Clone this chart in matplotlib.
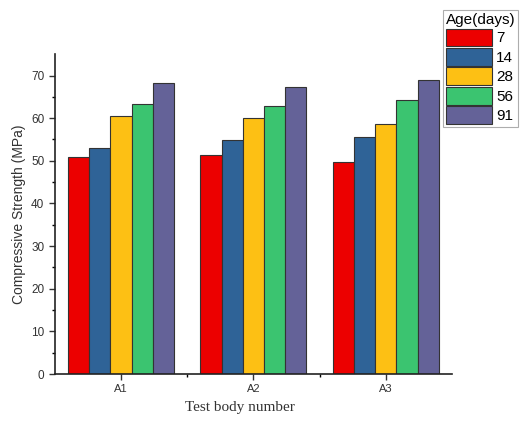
import numpy as np
import matplotlib.pyplot as plt

# 组别与龄期
groups = ['A1', 'A2', 'A3']
ages = ['7', '14', '28', '56', '91']
# 各龄期抗压强度 (MPa)，按组别排列
s7 = [51.0, 51.4, 49.7]
s14 = [53.0, 54.9, 55.5]
s28 = [60.4, 60.1, 58.7]
s56 = [63.3, 62.8, 64.2]
s91 = [68.2, 67.3, 69.0]
colors = ['#ec0000', '#2f6397', '#fdc014', '#3bc470', '#646298']

plt.rcParams['font.family'] = ['Liberation Sans', 'DejaVu Sans']
fig = plt.figure(figsize=(5.22, 4.37), dpi=100)
ax = fig.add_axes([0.105, 0.144, 0.761, 0.732])

x = np.arange(len(groups))
w = 0.16
for i, (vals, c, lab) in enumerate(zip([s7, s14, s28, s56, s91], colors, ages)):
    ax.bar(x + (i - 2) * w, vals, width=w, color=c, edgecolor='#333333',
           linewidth=0.8, label=lab)

ax.set_xlim(-0.5, 2.5)
ax.set_ylim(0, 75)
ax.set_xticks(x)
ax.set_xticklabels(groups, fontsize=8)
ax.set_xticks([0.5, 1.5], minor=True)
ax.set_yticks(np.arange(0, 71, 10))
ax.set_yticks(np.arange(5, 75, 10), minor=True)
ax.tick_params(axis='y', labelsize=8.5, colors='#333333')
ax.tick_params(axis='x', colors='#333333')
ax.tick_params(which='major', length=4, width=1)
ax.tick_params(which='minor', length=2.5, width=1)
for s in ['top', 'right']:
    ax.spines[s].set_visible(False)
for s in ['left', 'bottom']:
    ax.spines[s].set_linewidth(1.2)
    ax.spines[s].set_color('#222222')

ax.set_ylabel('Compressive Strength (MPa)', fontsize=10, color='#333333')
fig.text(0.46, 0.06, 'Test body number', family='Liberation Serif',
         fontsize=11, ha='center', color='#333333')

leg = fig.legend(loc='upper left', bbox_to_anchor=(0.848, 0.978),
                 title='Age(days)', fontsize=11, title_fontsize=11,
                 frameon=True, fancybox=False, handlelength=3.0,
                 handleheight=1.4, handletextpad=0.3, labelspacing=0.12,
                 borderpad=0.2, borderaxespad=0)
leg.get_frame().set_edgecolor('#999999')
leg.get_frame().set_linewidth(0.8)
leg._legend_box.align = 'left'

plt.savefig('out.png', dpi=100)
